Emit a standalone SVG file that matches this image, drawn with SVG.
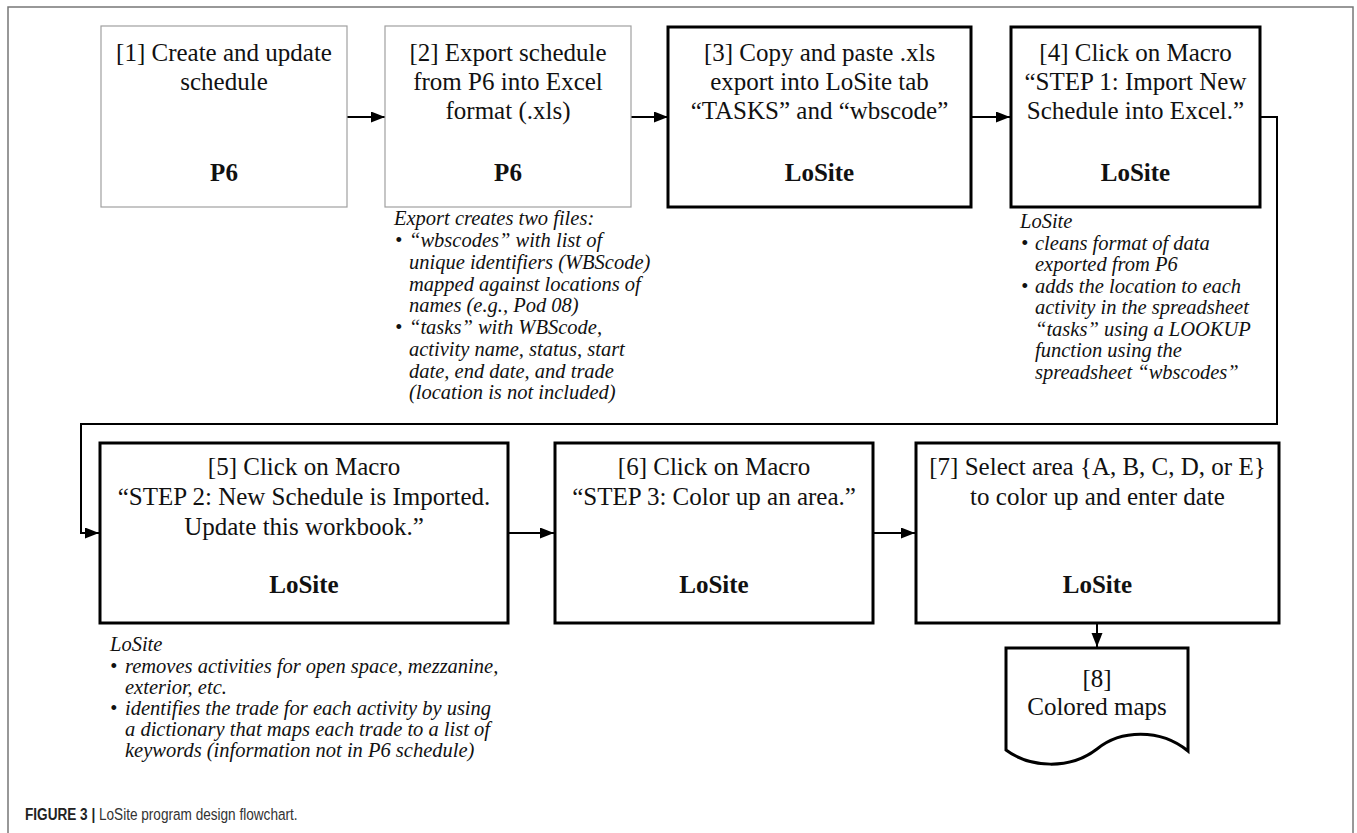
<svg xmlns="http://www.w3.org/2000/svg" width="1357" height="833" viewBox="0 0 1357 833">
<style>
.frame{fill:none;stroke:#777;stroke-width:1.5}
.thin{fill:#fff;stroke:#a0a0a0;stroke-width:1.2}
.thick{fill:#fff;stroke:#000;stroke-width:3}
.t{font-family:"Liberation Serif","Times New Roman",serif;font-size:25px;fill:#111;text-anchor:middle}
.b{font-family:"Liberation Serif","Times New Roman",serif;font-size:25px;font-weight:bold;fill:#111;text-anchor:middle}
.i{font-family:"Liberation Serif","Times New Roman",serif;font-size:20.5px;font-style:italic;fill:#111}
.c{fill:none;stroke:#000;stroke-width:2}
.cap{font-family:"Liberation Sans",Arial,sans-serif;font-size:17px;fill:#333}
</style>
<defs>
<marker id="ah" markerUnits="userSpaceOnUse" markerWidth="15" markerHeight="12" refX="14" refY="5.5" orient="auto">
<path d="M0,0 L14,5.5 L0,11 z" fill="#000"/>
</marker>
</defs>
<rect x="8" y="7" width="1345" height="840" class="frame"/>

<g id="connectors">
<path class="c" d="M347,117 H385" marker-end="url(#ah)"/>
<path class="c" d="M631,117 H668" marker-end="url(#ah)"/>
<path class="c" d="M971,117 H1010" marker-end="url(#ah)"/>
<path class="c" d="M1260,117 H1277 V424 H81 V533 H99" marker-end="url(#ah)"/>
<path class="c" d="M508,533 H554" marker-end="url(#ah)"/>
<path class="c" d="M873,533 H915" marker-end="url(#ah)"/>
<path class="c" d="M1097,623 V647" marker-end="url(#ah)"/>
</g>

<g id="node1">
<rect x="101" y="26" width="246" height="181" class="thin"/>
<text class="t" x="224" y="61">[1] Create and update</text>
<text class="t" x="224" y="90">schedule</text>
<text class="b" x="224" y="181">P6</text>
</g>

<g id="node2">
<rect x="385" y="26" width="246" height="181" class="thin"/>
<text class="t" x="508" y="61">[2] Export schedule</text>
<text class="t" x="508" y="90">from P6 into Excel</text>
<text class="t" x="508" y="119">format (.xls)</text>
<text class="b" x="508" y="181">P6</text>
</g>

<g id="note2">
<text class="i" x="394" y="225">Export creates two files:</text>
<text class="i" x="395" y="247">•</text>
<text class="i" x="409" y="247">“wbscodes” with list of</text>
<text class="i" x="409" y="269">unique identifiers (WBScode)</text>
<text class="i" x="409" y="290.5">mapped against locations of</text>
<text class="i" x="409" y="312">names (e.g., Pod 08)</text>
<text class="i" x="395" y="334">•</text>
<text class="i" x="409" y="334">“tasks” with WBScode,</text>
<text class="i" x="409" y="356">activity name, status, start</text>
<text class="i" x="409" y="377.5">date, end date, and trade</text>
<text class="i" x="409" y="399">(location is not included)</text>
</g>

<g id="node3">
<rect x="668" y="27" width="303" height="180" class="thick"/>
<text class="t" x="819.5" y="61">[3] Copy and paste .xls</text>
<text class="t" x="819.5" y="90">export into LoSite tab</text>
<text class="t" x="819.5" y="119">“TASKS” and “wbscode”</text>
<text class="b" x="819.5" y="181">LoSite</text>
</g>

<g id="node4">
<rect x="1011" y="27" width="249" height="180" class="thick"/>
<text class="t" x="1135.5" y="61">[4] Click on Macro</text>
<text class="t" x="1135.5" y="90">“STEP 1: Import New</text>
<text class="t" x="1135.5" y="119">Schedule into Excel.”</text>
<text class="b" x="1135.5" y="181">LoSite</text>
</g>

<g id="note4">
<text class="i" x="1020" y="228">LoSite</text>
<text class="i" x="1021" y="249.5">•</text>
<text class="i" x="1035" y="249.5">cleans format of data</text>
<text class="i" x="1035" y="271">exported from P6</text>
<text class="i" x="1021" y="292.5">•</text>
<text class="i" x="1035" y="292.5">adds the location to each</text>
<text class="i" x="1035" y="314">activity in the spreadsheet</text>
<text class="i" x="1035" y="335.5">“tasks” using a LOOKUP</text>
<text class="i" x="1035" y="357">function using the</text>
<text class="i" x="1035" y="378.5">spreadsheet “wbscodes”</text>
</g>

<g id="node5">
<rect x="100" y="443" width="408" height="180" class="thick"/>
<text class="t" x="304" y="475">[5] Click on Macro</text>
<text class="t" x="304" y="505">“STEP 2: New Schedule is Imported.</text>
<text class="t" x="304" y="535">Update this workbook.”</text>
<text class="b" x="304" y="593">LoSite</text>
</g>

<g id="note5">
<text class="i" x="110" y="651">LoSite</text>
<text class="i" x="110" y="673">•</text>
<text class="i" x="125" y="673">removes activities for open space, mezzanine,</text>
<text class="i" x="125" y="694">exterior, etc.</text>
<text class="i" x="110" y="715">•</text>
<text class="i" x="125" y="715">identifies the trade for each activity by using</text>
<text class="i" x="125" y="736">a dictionary that maps each trade to a list of</text>
<text class="i" x="125" y="757">keywords (information not in P6 schedule)</text>
</g>

<g id="node6">
<rect x="555" y="443" width="318" height="180" class="thick"/>
<text class="t" x="714" y="475">[6] Click on Macro</text>
<text class="t" x="714" y="505">“STEP 3: Color up an area.”</text>
<text class="b" x="714" y="593">LoSite</text>
</g>

<g id="node7">
<rect x="916" y="443" width="363" height="180" class="thick"/>
<text class="t" x="1097.5" y="475">[7] Select area {A, B, C, D, or E}</text>
<text class="t" x="1097.5" y="505">to color up and enter date</text>
<text class="b" x="1097.5" y="593">LoSite</text>
</g>

<g id="node8">
<path class="thick" d="M1006,648 H1188 V751 C1160,728 1120,730 1097,749 C1070,770 1030,768 1006,750 Z"/>
<text class="t" x="1097" y="687">[8]</text>
<text class="t" x="1097" y="715">Colored maps</text>
</g>

<text class="cap" transform="translate(25,820) scale(0.8,1)"><tspan font-weight="bold" fill="#222">FIGURE 3 | </tspan><tspan>LoSite program design flowchart.</tspan></text>
</svg>
